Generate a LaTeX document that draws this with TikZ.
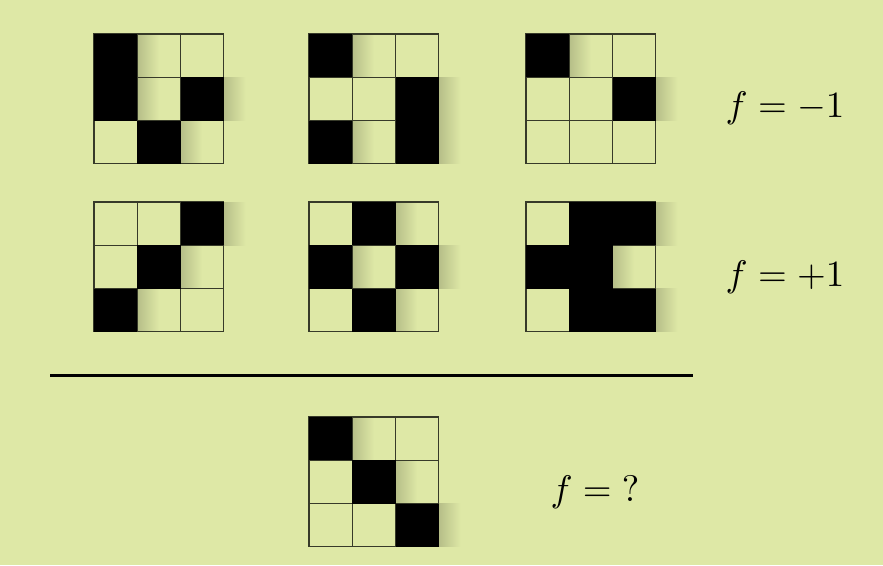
\documentclass[tikz,border=0pt]{standalone}
\usepackage{graphicx}
\usepackage{tikz}
\definecolor{bg}{RGB}{222,232,166}
\tikzset{
  cellfill/.style={fill=black},
  cellshadow/.style={left color=black!18!bg, right color=bg, draw=none},
  gridline/.style={draw=black!75!bg, line width=1.1pt, line cap=rect},
  flabel/.style={inner sep=0pt}
}
\newcommand{\bigf}[1]{\scalebox{3.7}{$#1$}}
% grid at top-left (#1,#2) in pt, black cells as row/col list
\newcommand{\pixgrid}[3]{
  \begin{scope}[shift={(#1pt,-#2pt)}, x=43.3pt, y=-43.3pt]
  \foreach \r/\c in {#3} {
    \shade [cellshadow] (\c+1, \r) rectangle ++(0.5, 1);
  }
  \foreach \i in {0,...,3} {
    \draw [gridline] (\i, 0) -- (\i, 3);
    \draw [gridline] (0, \i) -- (3, \i);
  }
  \foreach \r/\c in {#3} {
    \fill [cellfill] (\c, \r) rectangle ++(1, 1);
  }
  \end{scope}
}

\begin{document}
\begin{tikzpicture}
\fill [bg] (0pt, 0pt) rectangle (883pt, -565pt);
\useasboundingbox (0pt, 0pt) rectangle (883pt, -565pt);
% examples with f = -1
\pixgrid{94}{34}{0/0, 1/0, 1/2, 2/1}
\pixgrid{309}{34}{0/0, 1/2, 2/0, 2/2}
\pixgrid{526}{34}{0/0, 1/2}
% examples with f = +1
\pixgrid{94}{202}{0/2, 1/1, 2/0}
\pixgrid{309}{202}{0/1, 1/0, 1/2, 2/1}
\pixgrid{526}{202}{0/1, 0/2, 1/0, 1/1, 2/1, 2/2}
% query
\pixgrid{309}{417}{0/0, 1/1, 2/2}
\coordinate (sepL) at (50pt, -375pt);
\coordinate (sepR) at (693pt, -375pt);
\draw [line width=3pt] (sepL) -- (sepR);
\node (fneg) [flabel] at (785pt, -108pt) {\bigf{f = -1}};
\node (fpos) [flabel] at (785pt, -277pt) {\bigf{f = +1}};
\node (fq) [flabel] at (595pt, -492pt) {\bigf{f = {?}}};
\end{tikzpicture}
\end{document}
